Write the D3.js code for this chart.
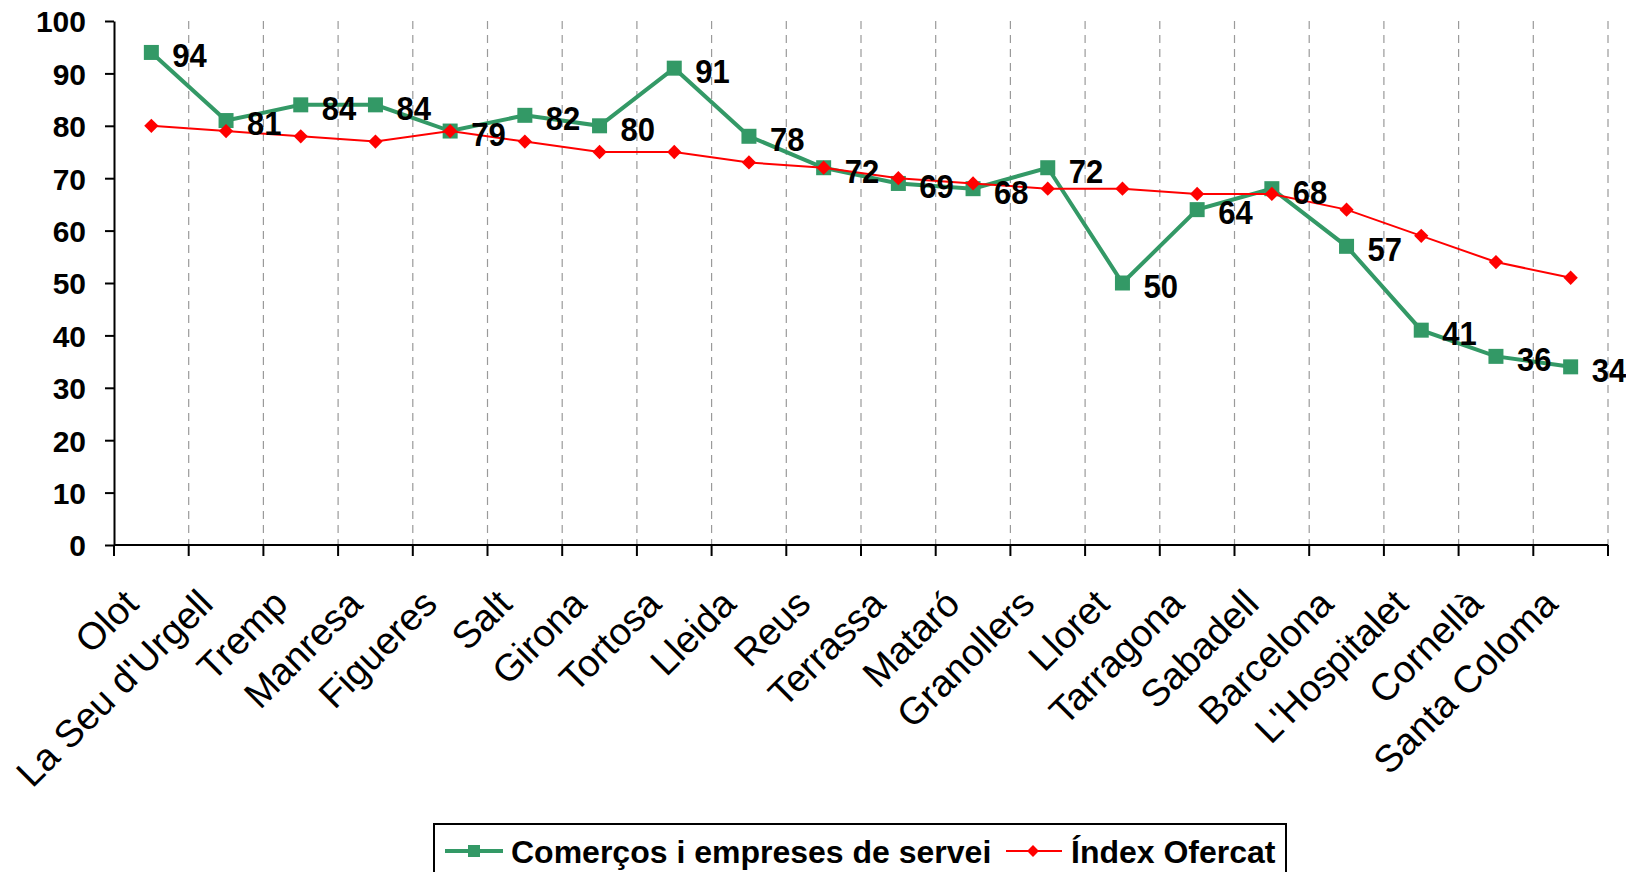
<!DOCTYPE html>
<meta charset="utf-8">
<head>
</head>
<body>
<style>
body { margin: 0; background: #fff; }
svg { display: block; font-family: "Liberation Sans", Arial, sans-serif; }
.grid line { stroke: #9a9a9a; stroke-width: 1.2px; stroke-dasharray: 8,6; }
.axis path, .axis line { stroke: #000; stroke-width: 2px; }
.ylab { font-size: 30px; font-weight: bold; }
.xlab { font-size: 38px; }
.dlab { font-size: 31px; font-weight: bold; }
.legend text { font-size: 32px; font-weight: bold; }
</style>
<svg width="1626" height="872"></svg>
<script src="https://d3js.org/d3.v7.min.js"></script>
<script>
// data
var cities = ["Olot", "La Seu d'Urgell", "Tremp", "Manresa", "Figueres", "Salt", "Girona",
  "Tortosa", "Lleida", "Reus", "Terrassa", "Mataró", "Granollers", "Lloret", "Tarragona",
  "Sabadell", "Barcelona", "L'Hospitalet", "Cornellà", "Santa Coloma"];
var comercos = [94, 81, 84, 84, 79, 82, 80, 91, 78, 72, 69, 68, 72, 50, 64, 68, 57, 41, 36, 34];
var ofercat = [80, 79, 78, 77, 79, 77, 75, 75, 73, 72, 70, 69, 68, 68, 67, 67, 64, 59, 54, 51];
var yTicks = [0, 10, 20, 30, 40, 50, 60, 70, 80, 90, 100];
var seriesNames = ["Comerços i empreses de servei", "Índex Ofercat"];

var svg = d3.select("svg");
var plotLeft = 114, plotRight = 1608, plotTop = 21, plotBottom = 545;
var green = "#339966", red = "#ff0000";

var x = d3.scaleBand().domain(cities).range([plotLeft, plotRight]);
var y = d3.scaleLinear().domain([0, 100]).range([plotBottom, plotTop]);
var cx = function(i) { return x(cities[i]) + x.bandwidth() / 2; };

// dashed vertical gridlines at category boundaries
var bounds = cities.map(function(c) { return x(c) + x.bandwidth(); });
svg.append("g").attr("class", "grid")
  .selectAll("line").data(bounds).enter().append("line")
  .attr("x1", function(d) { return d; }).attr("x2", function(d) { return d; })
  .attr("y1", plotTop).attr("y2", plotBottom);

// y axis
var yAxis = svg.append("g").attr("class", "axis")
  .attr("transform", "translate(" + plotLeft + ",0)")
  .call(d3.axisLeft(y).tickValues(yTicks).tickSize(9).tickSizeOuter(0).tickPadding(19));
yAxis.selectAll("text").attr("class", "ylab").attr("dy", "0.36em").attr("fill", "#000");

// x axis: ticks between categories
svg.append("line")
  .attr("x1", plotLeft).attr("x2", plotRight).attr("y1", plotBottom).attr("y2", plotBottom)
  .attr("stroke", "#000").attr("stroke-width", 2);
svg.append("g").selectAll("line").data([plotLeft].concat(bounds)).enter().append("line")
  .attr("x1", function(d) { return d; }).attr("x2", function(d) { return d; })
  .attr("y1", plotBottom).attr("y2", plotBottom + 11)
  .attr("stroke", "#000").attr("stroke-width", 2);

svg.append("g").selectAll("text").data(cities).enter().append("text")
  .attr("class", "xlab")
  .attr("text-anchor", "end")
  .attr("transform", function(d, i) {
    return "translate(" + (cx(i) - 11) + "," + (plotBottom + 61) + ") rotate(-45)";
  })
  .text(function(d) { return d; });

// lines
var line = d3.line().x(function(d, i) { return cx(i); }).y(function(d) { return y(d); });

svg.append("path").datum(comercos)
  .attr("fill", "none").attr("stroke", green).attr("stroke-width", 4)
  .attr("d", line);
svg.append("g").selectAll("rect").data(comercos).enter().append("rect")
  .attr("x", function(d, i) { return cx(i) - 7.5; })
  .attr("y", function(d) { return y(d) - 7.5; })
  .attr("width", 15).attr("height", 15).attr("fill", green);

svg.append("path").datum(ofercat)
  .attr("fill", "none").attr("stroke", red).attr("stroke-width", 2)
  .attr("d", line);
var diamond = d3.symbol().type(d3.symbolDiamond2).size(130);
svg.append("g").selectAll("path").data(ofercat).enter().append("path")
  .attr("d", diamond)
  .attr("transform", function(d, i) { return "translate(" + cx(i) + "," + y(d) + ")"; })
  .attr("fill", red);

// data labels for the green series
svg.append("g").selectAll("text").data(comercos).enter().append("text")
  .attr("class", "dlab")
  .attr("transform", function(d, i) {
    return "translate(" + (cx(i) + 21) + "," + (y(d) + 3) + ") scale(1,1.06)";
  })
  .attr("dy", "0.36em")
  .text(function(d) { return d; });

// legend
var lg = svg.append("g").attr("class", "legend");
lg.append("rect").attr("x", 434).attr("y", 824).attr("width", 852).attr("height", 70)
  .attr("fill", "#fff").attr("stroke", "#000").attr("stroke-width", 2);
lg.append("line").attr("x1", 445).attr("x2", 503).attr("y1", 851).attr("y2", 851)
  .attr("stroke", green).attr("stroke-width", 4);
lg.append("rect").attr("x", 468).attr("y", 845).attr("width", 12).attr("height", 12).attr("fill", green);
lg.append("text").attr("x", 511).attr("y", 851).attr("dy", "0.36em").text(seriesNames[0]);
lg.append("line").attr("x1", 1006).attr("x2", 1062).attr("y1", 851).attr("y2", 851)
  .attr("stroke", red).attr("stroke-width", 2);
lg.append("path").attr("d", d3.symbol().type(d3.symbolDiamond2).size(90)).attr("transform", "translate(1033,851)").attr("fill", red);
lg.append("text").attr("x", 1071).attr("y", 851).attr("dy", "0.36em").text(seriesNames[1]);
</script>
</body>
